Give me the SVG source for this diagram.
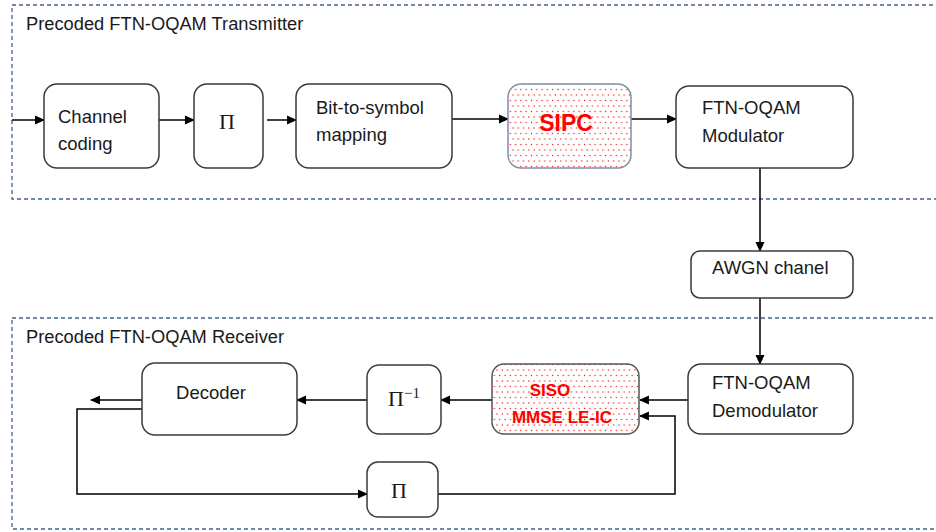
<svg xmlns="http://www.w3.org/2000/svg" width="936" height="532" viewBox="0 0 936 532">
<style>
.frame{fill:none;stroke:#44618f;stroke-width:1.3;stroke-dasharray:4,3}
.box{fill:#fff;stroke:#3a3a3a;stroke-width:1.5}
.t{font-family:"Liberation Sans",Arial,sans-serif;font-size:18.5px;fill:#1a1a1a}
.lbl{font-family:"Liberation Sans",Arial,sans-serif;font-size:18.3px;fill:#1a1a1a}
.pi{font-family:"Liberation Serif","Times New Roman",serif;font-size:22px;fill:#1a1a1a}
.red{font-family:"Liberation Sans",Arial,sans-serif;fill:#ff0000;font-weight:bold}
.ln{fill:none;stroke:#000;stroke-width:1.5}
</style>
<defs>
<marker id="ah" markerWidth="10" markerHeight="10" refX="9" refY="5" orient="auto" markerUnits="userSpaceOnUse">
<path d="M0,0.5 L10,5 L0,9.5 Z" fill="#000"/>
</marker>
<pattern id="dots" width="10.6" height="11" patternUnits="userSpaceOnUse">
<rect width="10.6" height="11" fill="#fff"/>
<circle cx="1.5" cy="1.5" r="0.65" fill="#ff0000"/>
<circle cx="6.8" cy="1.5" r="0.65" fill="#ff0000"/>
<circle cx="4.15" cy="7" r="0.65" fill="#ff0000"/>
<circle cx="9.45" cy="7" r="0.65" fill="#ff0000"/>
</pattern>
</defs>
<rect width="936" height="532" fill="#fff"/>
<g id="frames">
<rect class="frame" x="12" y="5" width="940" height="194"/>
<text class="lbl" x="26" y="30">Precoded FTN-OQAM Transmitter</text>
<rect class="frame" x="12" y="318" width="940" height="211"/>
<text class="lbl" x="26" y="343">Precoded FTN-OQAM Receiver</text>
</g>
<g id="connectors">
<line class="ln" x1="12" y1="120" x2="44" y2="120" marker-end="url(#ah)"/>
<line class="ln" x1="159" y1="120" x2="194" y2="120" marker-end="url(#ah)"/>
<line class="ln" x1="267" y1="120" x2="296" y2="120" marker-end="url(#ah)"/>
<line class="ln" x1="452" y1="119" x2="508" y2="119" marker-end="url(#ah)"/>
<line class="ln" x1="631" y1="119" x2="676" y2="119" marker-end="url(#ah)"/>
<line class="ln" x1="760" y1="168" x2="760" y2="251" marker-end="url(#ah)"/>
<line class="ln" x1="760" y1="298" x2="760" y2="364" marker-end="url(#ah)"/>
<line class="ln" x1="688" y1="400" x2="640" y2="400" marker-end="url(#ah)"/>
<line class="ln" x1="492" y1="400" x2="441" y2="400" marker-end="url(#ah)"/>
<line class="ln" x1="367" y1="400" x2="297" y2="400" marker-end="url(#ah)"/>
<line class="ln" x1="142" y1="400" x2="91" y2="400" marker-end="url(#ah)"/>
<polyline class="ln" points="142,409 77,409 77,494 367,494" marker-end="url(#ah)"/>
<polyline class="ln" points="438,494 675,494 675,416 640,416" marker-end="url(#ah)"/>
</g>
<g id="channel-coding">
<rect class="box" x="44" y="84" width="115" height="84" rx="13"/>
<text class="t" x="58" y="123">Channel</text>
<text class="t" x="58" y="150">coding</text>
</g>
<g id="interleaver-tx">
<rect class="box" x="194" y="84" width="69" height="84" rx="13"/>
<text class="pi" x="227" y="129" text-anchor="middle">Π</text>
</g>
<g id="bit-to-symbol">
<rect class="box" x="296" y="84" width="156" height="84" rx="13"/>
<text class="t" x="316" y="114">Bit-to-symbol</text>
<text class="t" x="316" y="141">mapping</text>
</g>
<g id="sipc">
<rect x="508" y="84" width="123" height="84" rx="13" fill="url(#dots)" stroke="#7f8faa" stroke-width="1.5"/>
<text class="red" x="566" y="131" font-size="23" text-anchor="middle">SIPC</text>
</g>
<g id="modulator">
<rect class="box" x="676" y="86" width="177" height="82" rx="13"/>
<text class="t" x="702" y="114">FTN-OQAM</text>
<text class="t" x="702" y="142">Modulator</text>
</g>
<g id="awgn">
<rect class="box" x="691" y="251" width="162" height="47" rx="9"/>
<text class="t" x="712" y="274">AWGN chanel</text>
</g>
<g id="demodulator">
<rect class="box" x="688" y="364" width="165" height="70" rx="13"/>
<text class="t" x="712" y="389">FTN-OQAM</text>
<text class="t" x="712" y="417">Demodulator</text>
</g>
<g id="siso">
<rect x="492" y="364" width="147" height="70" rx="12" fill="url(#dots)" stroke="#555" stroke-width="1.5"/>
<text class="red" x="550" y="396" font-size="17" text-anchor="middle">SISO</text>
<text class="red" x="562" y="423" font-size="17" text-anchor="middle">MMSE LE-IC</text>
</g>
<g id="deinterleaver">
<rect class="box" x="367" y="365" width="74" height="69" rx="12"/>
<text class="pi" x="404" y="406" text-anchor="middle">Π<tspan font-size="15" dy="-8">−1</tspan></text>
</g>
<g id="decoder">
<rect class="box" x="142" y="363" width="155" height="72" rx="13"/>
<text class="t" x="211" y="399" text-anchor="middle">Decoder</text>
</g>
<g id="interleaver-rx">
<rect class="box" x="367" y="462" width="71" height="55" rx="11"/>
<text class="pi" x="399" y="498" text-anchor="middle">Π</text>
</g>
</svg>
